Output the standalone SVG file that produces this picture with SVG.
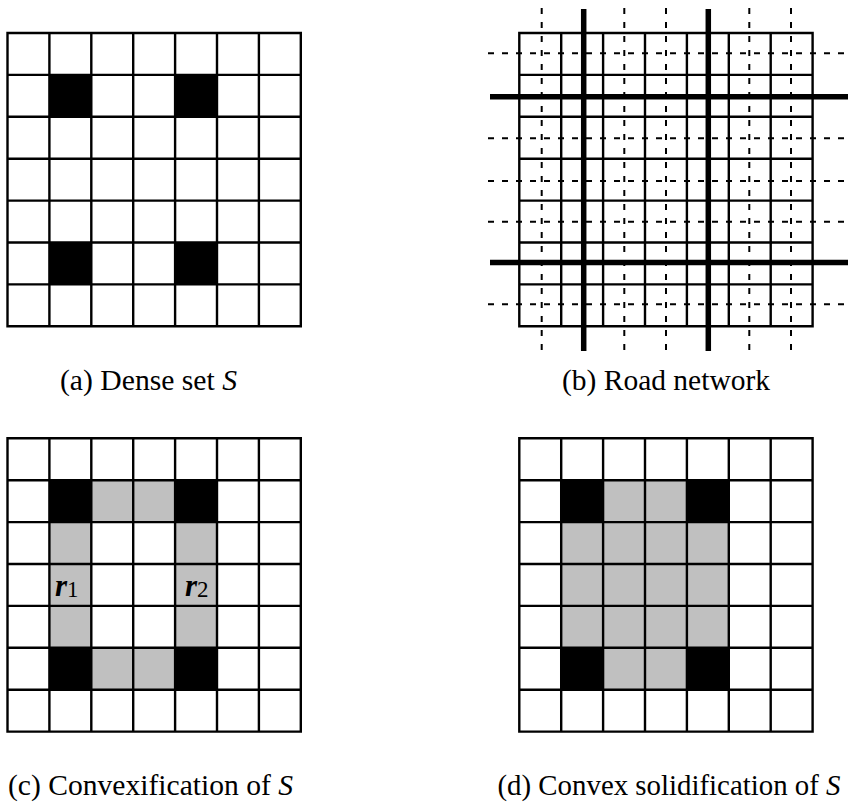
<svg xmlns="http://www.w3.org/2000/svg" xmlns:xlink="http://www.w3.org/1999/xlink" width="848" height="804" viewBox="0 0 848 804">
<style>
.grid{fill:none;stroke:#000;stroke-width:2.4}
.blk{fill:#000}
.gry{fill:#c0c0c0}
.road{stroke:#000;stroke-width:5.5;fill:none}
.dash{stroke:#000;stroke-width:2;stroke-dasharray:6 8;fill:none}
.cap{font-size:29px;fill:#000;text-anchor:middle}
.it{font-style:italic}
.r{font-size:31px;font-weight:bold;font-style:italic;fill:#000}
.sub{font-size:23px;font-weight:normal;font-style:normal}
</style>
<defs>
<path id="grid" class="grid" d="M0,0H293.3V293.3H0Z M41.9,0V293.3 M83.8,0V293.3 M125.7,0V293.3 M167.6,0V293.3 M209.5,0V293.3 M251.4,0V293.3 M0,41.9H293.3 M0,83.8H293.3 M0,125.7H293.3 M0,167.6H293.3 M0,209.5H293.3 M0,251.4H293.3"/>
<g id="black4">
<rect class="blk" x="41.9" y="41.9" width="41.9" height="41.9"/>
<rect class="blk" x="167.6" y="41.9" width="41.9" height="41.9"/>
<rect class="blk" x="41.9" y="209.5" width="41.9" height="41.9"/>
<rect class="blk" x="167.6" y="209.5" width="41.9" height="41.9"/>
</g>
</defs>
<rect width="848" height="804" fill="#fff"/>

<g id="panel-a">
<g transform="translate(7.5,33)">
<use xlink:href="#black4"/>
<use xlink:href="#grid"/>
</g>
<text class="cap" font-family="'Liberation Serif', 'Times New Roman', serif" x="148.5" y="390" textLength="177" lengthAdjust="spacingAndGlyphs">(a) Dense set <tspan class="it">S</tspan></text>
</g>

<g id="panel-b">
<g transform="translate(519.3,33)">
<use xlink:href="#grid"/>
</g>
<g id="roads">
<path class="dash" d="M541.7,8V350 M624.3,8V350 M666,8V350 M749.3,8V350 M791,8V350"/>
<path class="dash" d="M488,53.3H848 M488,138.3H848 M488,181H848 M488,221.7H848 M488,304.3H848"/>
<path class="road" d="M583.7,9V351 M708.3,9V351"/>
<path class="road" d="M490,96.7H848 M490,262.4H848"/>
</g>
<text class="cap" font-family="'Liberation Serif', 'Times New Roman', serif" x="666" y="390" textLength="208" lengthAdjust="spacingAndGlyphs">(b) Road network</text>
</g>

<g id="panel-c">
<g transform="translate(7.5,438.3)">
<rect class="gry" x="83.8" y="41.9" width="83.8" height="41.9"/>
<rect class="gry" x="83.8" y="209.5" width="83.8" height="41.9"/>
<rect class="gry" x="41.9" y="83.8" width="41.9" height="125.7"/>
<rect class="gry" x="167.6" y="83.8" width="41.9" height="125.7"/>
<use xlink:href="#black4"/>
<use xlink:href="#grid"/>
</g>
<text class="r" font-family="'Liberation Serif', 'Times New Roman', serif" x="55" y="596">r<tspan class="sub" dy="1">1</tspan></text>
<text class="r" font-family="'Liberation Serif', 'Times New Roman', serif" x="185" y="596">r<tspan class="sub" dy="1">2</tspan></text>
<text class="cap" font-family="'Liberation Serif', 'Times New Roman', serif" x="150.5" y="795" textLength="285" lengthAdjust="spacingAndGlyphs">(c) Convexification of <tspan class="it">S</tspan></text>
</g>

<g id="panel-d">
<g transform="translate(519.3,438.3)">
<rect class="gry" x="83.8" y="41.9" width="83.8" height="41.9"/>
<rect class="gry" x="83.8" y="209.5" width="83.8" height="41.9"/>
<rect class="gry" x="41.9" y="83.8" width="167.6" height="125.7"/>
<use xlink:href="#black4"/>
<use xlink:href="#grid"/>
</g>
<text class="cap" font-family="'Liberation Serif', 'Times New Roman', serif" x="669" y="795" textLength="343" lengthAdjust="spacingAndGlyphs">(d) Convex solidification of <tspan class="it">S</tspan></text>
</g>
</svg>
